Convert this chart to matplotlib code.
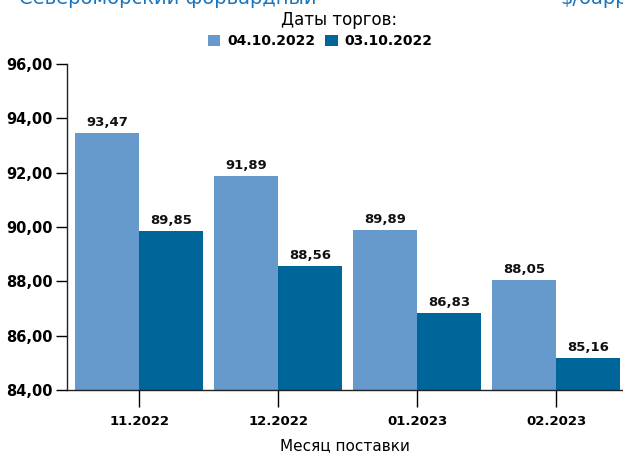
import matplotlib
matplotlib.use('Agg')
import matplotlib.pyplot as plt
import numpy as np

# Data
months = ['11.2022', '12.2022', '01.2023', '02.2023']
series_names = ['04.10.2022', '03.10.2022']
prices_0410 = [93.47, 91.89, 89.89, 88.05]
prices_0310 = [89.85, 88.56, 86.83, 85.16]
yticks = [84, 86, 88, 90, 92, 94, 96]

colors = ['#6699cc', '#006699']

fig = plt.figure(figsize=(6.23, 4.55), dpi=100)
ax = fig.add_axes([0.1075, 0.143, 0.8925, 0.716])

x = np.arange(len(months))
w = 0.46
b1 = ax.bar(x - w / 2, prices_0410, w, color=colors[0], label=series_names[0])
b2 = ax.bar(x + w / 2, prices_0310, w, color=colors[1], label=series_names[1])

# value labels with comma decimal separator
for bars in (b1, b2):
    for rect in bars:
        v = rect.get_height()
        ax.annotate(f'{v:.2f}'.replace('.', ','),
                    (rect.get_x() + rect.get_width() / 2, v),
                    xytext=(0, 3), textcoords='offset points',
                    ha='center', va='bottom', fontsize=9.5, fontweight='bold',
                    color='#111111')

ax.set_ylim(84, 96)
ax.set_xlim(-0.52, 3.48)
ax.set_yticks(yticks)
ax.set_yticklabels([f'{t:.2f}'.replace('.', ',') for t in yticks],
                   fontsize=10.5, fontweight='bold')
ax.set_xticks(x)
ax.set_xticklabels(months, fontsize=9.5, fontweight='bold')
ax.tick_params(axis='y', length=8, width=1, pad=2)
ax.tick_params(axis='x', length=12, width=1, pad=6)

for s in ['top', 'right']:
    ax.spines[s].set_visible(False)
for s in ['left', 'bottom']:
    ax.spines[s].set_linewidth(1)
    ax.spines[s].set_color('#222222')

ax.set_xlabel('Месяц поставки', fontsize=11, labelpad=7)

# legend above the plot
fig.text(0.544, 0.955, 'Даты торгов:', ha='center', va='center', fontsize=12)
leg = fig.legend(handles=[b1, b2], labels=series_names, loc='center',
                 bbox_to_anchor=(0.514, 0.909), ncol=2, frameon=False,
                 fontsize=10, handlelength=0.9, handleheight=0.9,
                 handletextpad=0.5, columnspacing=0.7, borderaxespad=0)
for t in leg.get_texts():
    t.set_fontweight('bold')

# title text that is cut off at the top edge
fig.text(0.03, 1.003, 'Североморский форвардный', ha='left', va='center',
         fontsize=14, color='#1a75bc')
fig.text(0.9, 1.003, '$/барр', ha='left', va='center',
         fontsize=14, color='#1a75bc')

fig.savefig('out.png', dpi=100)
